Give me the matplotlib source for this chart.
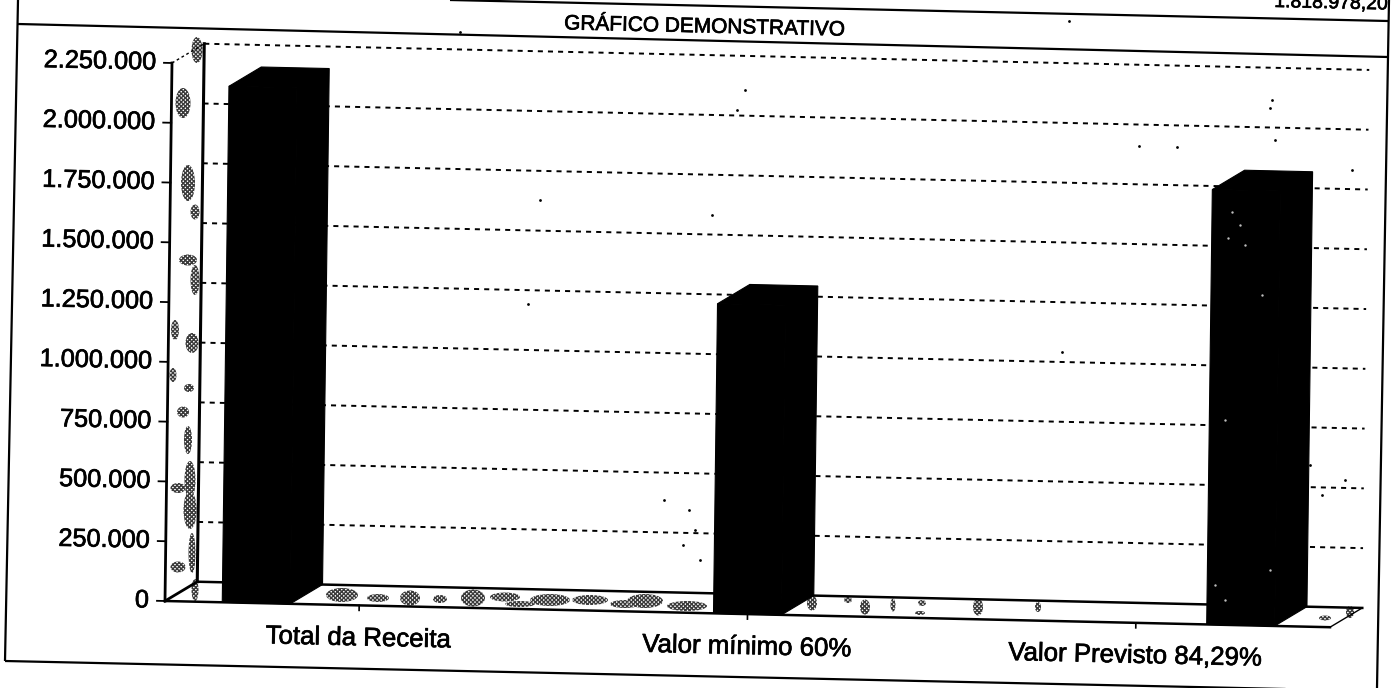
import matplotlib
matplotlib.use('Agg')
import matplotlib.pyplot as plt
import matplotlib.patheffects as pe
from matplotlib.patches import Ellipse
from matplotlib.transforms import Affine2D

plt.rcParams['font.family'] = ['Liberation Sans', 'DejaVu Sans']
plt.rcParams['hatch.linewidth'] = 1.0

categories = ["Total da Receita", "Valor mínimo 60%", "Valor Previsto 84,29%"]
values = [2158000, 1294800, 1818978]
y_ticks = [0, 250000, 500000, 750000, 1000000, 1250000, 1500000, 1750000, 2000000, 2250000]
y_labels = ["0", "250.000", "500.000", "750.000", "1.000.000", "1.250.000",
            "1.500.000", "1.750.000", "2.000.000", "2.250.000"]
title = "GRÁFICO DEMONSTRATIVO"
corner_value = "1.818.978,20"

W, H = 1395, 688
X0, Y0 = 165, 601      # front left corner of the floor, image pixels
PLOT_W, PLOT_H = 1165, 538
SLOPE_X, SLOPE_Y = 0.013, 0.0225   # the scan is crooked
ANGLE = -1.3
INK = [pe.withStroke(linewidth=0.5, foreground='black')]   # toner spread of the scan

fig = plt.figure(figsize=(W / 100, H / 100), dpi=100, facecolor='white')

# page layer: scan frame and dirt, in image pixels
page = fig.add_axes([0, 0, 1, 1])
page.set_xlim(0, W)
page.set_ylim(H, 0)
page.axis('off')

frame_lines = [
    ([18, 5], [0, 661]),
    ([1389, 1377], [0, 688]),
    ([18, 1388], [24, 57]),
    ([450, 1388], [0, 21]),
    ([5, 1377], [661, 691]),
]
for xs, ys in frame_lines:
    page.plot(xs, ys, color='black', lw=1.6, solid_capstyle='butt')

page.text(705, 27, title, fontsize=15, ha='center', va='center', rotation=ANGLE,
          rotation_mode='anchor', path_effects=INK)
page.text(1388, 5, corner_value, fontsize=14, ha='right', va='center', rotation=ANGLE,
          rotation_mode='anchor', path_effects=INK)

# dithered grey blotches of the wall and floor fill: x, y, w, h
wall_blobs = [
    (197, 50, 11, 26), (183, 103, 15, 30), (188, 183, 14, 36), (195, 212, 9, 15),
    (188, 260, 18, 11), (195, 280, 9, 30), (175, 330, 8, 20), (192, 343, 13, 20),
    (173, 375, 7, 14), (189, 388, 10, 8), (183, 412, 12, 11), (188, 440, 8, 28),
    (190, 480, 11, 38), (178, 488, 15, 10), (190, 510, 13, 38), (192, 553, 7, 40),
    (178, 567, 15, 11), (195, 590, 7, 22),
]
floor_blobs = [
    (342, 595, 32, 14), (378, 598, 22, 8), (410, 598, 20, 15), (440, 599, 14, 8),
    (473, 598, 24, 17), (505, 597, 30, 9), (520, 604, 30, 6), (550, 600, 40, 12),
    (590, 600, 36, 10), (625, 604, 30, 8), (645, 601, 36, 14), (687, 606, 40, 10),
    (812, 603, 10, 15), (848, 600, 8, 6), (865, 607, 10, 15), (893, 605, 5, 13),
    (922, 603, 8, 6), (920, 613, 10, 4), (978, 607, 10, 17), (1038, 607, 6, 10),
]
corner_blobs = [(1350, 612, 8, 12), (1325, 618, 12, 5)]
for bx, by, bw, bh in wall_blobs + floor_blobs + corner_blobs:
    page.add_patch(Ellipse((bx, by), bw, bh, facecolor='white', edgecolor='#3a3a3a',
                           hatch='xxxxxxxx', lw=0))

specks = [(1270, 108), (1272, 100), (1275, 140), (1139, 146), (1177, 147), (1352, 170),
          (1069, 21), (528, 304), (1062, 352), (689, 510), (695, 530), (683, 545),
          (700, 560), (664, 500), (745, 90), (737, 110), (712, 215), (1310, 465),
          (1322, 495), (1345, 480), (460, 32), (540, 200)]
page.scatter(*zip(*specks), s=4, color='black', linewidths=0)

# chart layer: front plane of the 3D box, bent along with the scan
ax = fig.add_axes([X0 / W, (H - Y0) / H, PLOT_W / W, PLOT_H / H])
ax.set_xlim(-0.5, 2.5)
ax.set_ylim(0, 2250000)
ax.axis('off')

px0, py0 = X0, H - Y0
bend = Affine2D.from_values(1, -SLOPE_Y, SLOPE_X, 1,
                            -SLOPE_X * py0, SLOPE_Y * px0)
tr = ax.transData + bend

unit_x = 3 / PLOT_W
unit_y = 2250000 / PLOT_H
depth_x = 32 * unit_x
depth_y = 20 * unit_y
left, right = -0.5, 2.5


def draw(xs, ys, **kw):
    ax.plot(xs, ys, transform=tr, clip_on=False, color='black', **kw)


# back wall grid
for v in y_ticks[1:]:
    draw([left + depth_x, right + depth_x], [v + depth_y, v + depth_y],
         lw=1.4, linestyle=(0, (2.6, 2.6)), zorder=1)

# side wall and floor edges
draw([left, left], [0, y_ticks[-1]], lw=2, zorder=2)
draw([left + depth_x, left + depth_x], [depth_y, y_ticks[-1] + depth_y], lw=2.2, zorder=2)
draw([left, left + depth_x], [0, depth_y], lw=2, zorder=2)
draw([left, left + depth_x], [y_ticks[-1], y_ticks[-1] + depth_y], lw=1,
     linestyle=(0, (2, 2)), zorder=2)
draw([left, right], [0, 0], lw=1.8, zorder=2)
draw([left + depth_x, right + depth_x], [depth_y, depth_y], lw=1.8, zorder=2)
draw([right, right + depth_x], [0, depth_y], lw=1, zorder=2)

# ticks and labels
for v, lab in zip(y_ticks, y_labels):
    draw([left - 8 * unit_x, left], [v, v], lw=1.3, zorder=2)
    ax.text(left - 16 * unit_x, v, lab, transform=tr, fontsize=18.2, ha='right',
            va='center', rotation=ANGLE, rotation_mode='anchor', clip_on=False,
            path_effects=INK)

for i, cat in enumerate(categories):
    draw([i, i], [0, -5 * unit_y], lw=1.2, zorder=2)
    ax.text(i, -33 * unit_y, cat, transform=tr, fontsize=18.6, ha='center', va='center',
            rotation=ANGLE, rotation_mode='anchor', clip_on=False, path_effects=INK)

# bars, wider spread than the category slots as in the original
bar_pos = [-0.265, 1.0, 2.27]
bar_w = 68 * unit_x
ax.bar(bar_pos, values, width=bar_w, color='black', edgecolor='black', lw=0.8,
       transform=tr, clip_on=False, zorder=3)
for p, v in zip(bar_pos, values):
    l, r = p - bar_w / 2, p + bar_w / 2
    ax.fill([l, l + depth_x, r + depth_x, r + depth_x, r, r],
            [v, v + depth_y, v + depth_y, depth_y, 0, v],
            facecolor='black', edgecolor='black', lw=0.8, transform=tr, clip_on=False,
            zorder=3)
ax.set_xlim(-0.5, 2.5)
ax.set_ylim(0, 2250000)

# pale toner gaps in the third bar
bar_specks = [(1232, 212), (1240, 225), (1228, 238), (1245, 245), (1262, 295), (1225, 420),
              (1270, 570), (1215, 585), (1225, 600)]
ax.scatter(*zip(*bar_specks), s=3, color='#bdbdbd', linewidths=0, transform=page.transData,
           clip_on=False, zorder=4)

fig.savefig('out.png', dpi=100)
plt.close(fig)
